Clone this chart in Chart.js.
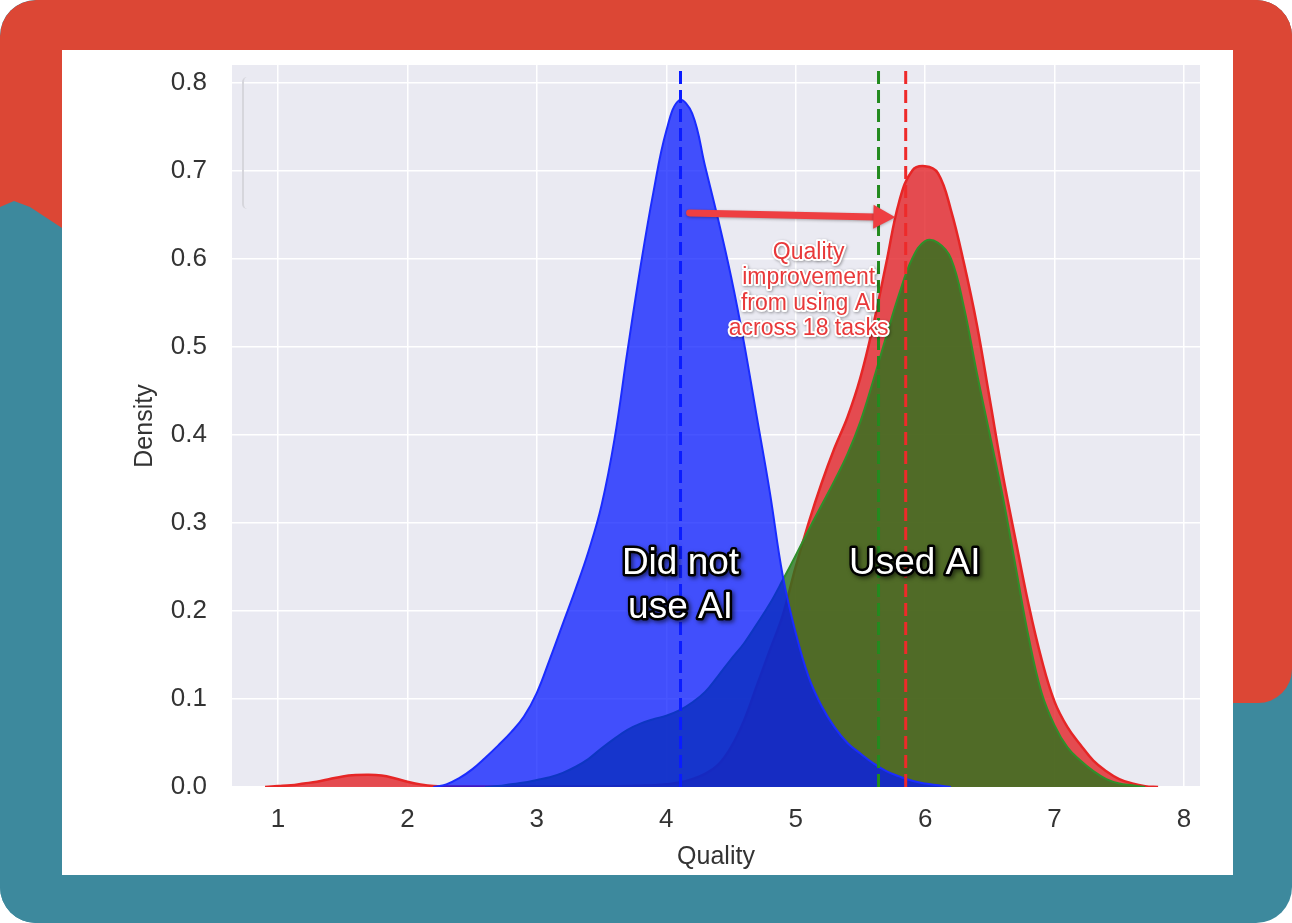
<!DOCTYPE html>
<html>
<head>
<meta charset="utf-8">
<script src="https://cdn.jsdelivr.net/npm/chart.js@4.4.1/dist/chart.umd.min.js"></script>
<style>
  body { margin: 0; background: #ffffff; }
  #frame { position: relative; width: 1292px; height: 923px; overflow: hidden; border-radius: 36px; background: #3d899d; }
  .redTop { position: absolute; left: 0; top: 0; width: 1292px; height: 240px; background: #dc4735; border-radius: 36px 36px 0 0; }
  .tealLeft { position: absolute; left: 0; top: 195px; width: 120px; height: 728px; background: #3d899d;
              clip-path: polygon(0 12px, 14px 6px, 30px 12px, 62px 33px, 62px 728px, 0 728px); }
  .redRight { position: absolute; left: 1190px; top: 0; width: 102px; height: 703px; background: #dc4735; border-radius: 0 0 34px 44px; }
  .card { position: absolute; left: 62px; top: 50px; width: 1171px; height: 825px; background: #ffffff; }
  .card canvas { display: block; }
  .bracket { position: absolute; left: 180px; top: 27px; width: 6px; height: 132px; border-left: 2px solid #d6d6dc; border-radius: 5px 0 0 5px; }
</style>
</head>
<body>
<div id="frame">
  <div class="redTop"></div>
  <div class="tealLeft"></div>
  <div class="redRight"></div>
  <div class="card">
    <canvas id="kdeChart" width="1171" height="825"></canvas>
    <div class="bracket"></div>
  </div>
</div>
<script>
// quality grid shared by the three density curves
const quality = [0.9, 1.0, 1.1, 1.2, 1.3, 1.4, 1.5, 1.6, 1.7, 1.8, 1.9, 2.0, 2.1, 2.2, 2.3, 2.4, 2.5, 2.6, 2.7, 2.8,
                 2.9, 3.0, 3.1, 3.2, 3.3, 3.4, 3.5, 3.6, 3.7, 3.8, 3.9, 4.0, 4.1, 4.2, 4.3, 4.4, 4.5, 4.6, 4.7, 4.8,
                 4.9, 5.0, 5.1, 5.2, 5.3, 5.4, 5.5, 5.6, 5.7, 5.8, 5.9, 6.0, 6.1, 6.2, 6.3, 6.4, 6.5, 6.6, 6.7, 6.8,
                 6.9, 7.0, 7.1, 7.2, 7.3, 7.4, 7.5, 7.6, 7.7, 7.8];

// did not use AI (blue)
const noAiDensity = [null, null, null, null, null, null, null, null, null, null, null, null, null, 0, 0.003, 0.01, 0.02, 0.033, 0.047, 0.062,
                     0.08, 0.107, 0.145, 0.185, 0.225, 0.268, 0.32, 0.395, 0.495, 0.59, 0.675, 0.745, 0.78, 0.765, 0.705, 0.645, 0.58, 0.505, 0.42, 0.335,
                     0.24, 0.175, 0.125, 0.092, 0.068, 0.05, 0.038, 0.027, 0.018, 0.012, 0.007, 0.004, 0.002, 0, null, null, null, null, null, null,
                     null, null, null, null, null, null, null, null, null, null];

// used AI (red)
const usedAiDensity = [0, 0.001, 0.002, 0.004, 0.006, 0.009, 0.012, 0.0135, 0.014, 0.013, 0.01, 0.006, 0.003, 0.001, 0.0005, 0.0005, 0.0005, 0.0005, 0.0005, 0.0005,
                       0.0005, 0.0005, 0.0005, 0.0005, 0.0005, 0.0005, 0.0005, 0.0008, 0.001, 0.0015, 0.002, 0.003, 0.005, 0.009, 0.015, 0.025, 0.045, 0.075, 0.115, 0.155,
                       0.195, 0.25, 0.3, 0.345, 0.385, 0.42, 0.465, 0.525, 0.595, 0.665, 0.7, 0.705, 0.697, 0.655, 0.595, 0.525, 0.44, 0.355, 0.28, 0.207,
                       0.145, 0.097, 0.068, 0.048, 0.03, 0.018, 0.009, 0.004, 0.001, 0];

// used AI, second group (green)
const usedAiGreenDensity = [null, null, null, null, null, null, null, null, null, null, null, null, null, null, null, null, null, 0, 0.001, 0.003,
                            0.005, 0.008, 0.011, 0.016, 0.023, 0.032, 0.044, 0.055, 0.065, 0.072, 0.077, 0.081, 0.087, 0.096, 0.108, 0.126, 0.145, 0.163, 0.185, 0.208,
                            0.235, 0.263, 0.292, 0.32, 0.348, 0.378, 0.415, 0.462, 0.512, 0.56, 0.6, 0.62, 0.618, 0.6, 0.545, 0.47, 0.4, 0.33, 0.25, 0.17,
                            0.107, 0.07, 0.045, 0.03, 0.018, 0.009, 0.004, 0.002, 0, null];

// mean lines
const meanNoAi = 4.11;
const meanUsedAi = 5.85;
const meanUsedAiGreen = 5.64;

const xTickValues = [1, 2, 3, 4, 5, 6, 7, 8];
const yTickValues = [0, 0.1, 0.2, 0.3, 0.4, 0.5, 0.6, 0.7, 0.8];
const xRange = [0.6445, 8.124];
const yRange = [0, 0.82];

const FONT = '"Liberation Sans", Arial, Helvetica, sans-serif';

function toPoints(values) {
    return quality.map((q, i) => ({ x: q, y: values[i] }));
}

function meanLine(x) {
    return [{ x: x, y: yRange[0] }, { x: x, y: yRange[1] }];
}

const plotBackground = {
    id: 'plotBackground',
    beforeDraw(chart) {
        const { ctx, chartArea: a } = chart;
        ctx.save();
        ctx.fillStyle = '#eaeaf2';
        ctx.fillRect(a.left, a.top, a.right - a.left, a.bottom - a.top);
        ctx.restore();
    }
};

function outlined(ctx, text, x, y, fill, stroke, width) {
    ctx.lineJoin = 'round';
    ctx.strokeStyle = stroke;
    ctx.lineWidth = width;
    ctx.strokeText(text, x, y);
    ctx.shadowColor = 'transparent';
    ctx.fillStyle = fill;
    ctx.fillText(text, x, y);
}

// arrow + labels drawn on top of the curves
const annotations = {
    id: 'annotations',
    afterDatasetsDraw(chart) {
        const { ctx, scales: { x, y } } = chart;
        ctx.save();

        // arrow
        const x0 = x.getPixelForValue(4.18), y0 = y.getPixelForValue(0.652);
        const x1 = x.getPixelForValue(5.77), y1 = y.getPixelForValue(0.647);
        const ang = Math.atan2(y1 - y0, x1 - x0);
        ctx.shadowColor = 'rgba(0,0,0,0.3)';
        ctx.shadowBlur = 3;
        ctx.shadowOffsetY = 1;
        ctx.strokeStyle = '#ee3f42';
        ctx.lineWidth = 7;
        ctx.lineCap = 'round';
        ctx.beginPath();
        ctx.moveTo(x0, y0);
        ctx.lineTo(x1 - 20 * Math.cos(ang), y1 - 20 * Math.sin(ang));
        ctx.stroke();
        ctx.fillStyle = '#ee3f42';
        ctx.beginPath();
        ctx.moveTo(x1, y1);
        ctx.lineTo(x1 - 22 * Math.cos(ang) + 12 * Math.sin(ang), y1 - 22 * Math.sin(ang) - 12 * Math.cos(ang));
        ctx.lineTo(x1 - 22 * Math.cos(ang) - 12 * Math.sin(ang), y1 - 22 * Math.sin(ang) + 12 * Math.cos(ang));
        ctx.closePath();
        ctx.fill();

        ctx.textAlign = 'center';
        ctx.textBaseline = 'middle';

        // red note
        ctx.font = '23px ' + FONT;
        const noteX = x.getPixelForValue(5.1);
        const noteY = y.getPixelForValue(0.607);
        ['Quality', 'improvement', 'from using AI', 'across 18 tasks'].forEach((line, i) => {
            ctx.shadowColor = 'rgba(0,0,0,0.35)';
            ctx.shadowBlur = 3;
            ctx.shadowOffsetX = 1;
            ctx.shadowOffsetY = 1;
            outlined(ctx, line, noteX, noteY + i * 25.5, '#e8393a', '#ffffff', 4);
        });

        // group labels
        ctx.font = '37px ' + FONT;
        const labels = [
            { text: 'Did not', q: meanNoAi, d: 0.254 },
            { text: 'use AI', q: meanNoAi, d: 0.204 },
            { text: 'Used AI', q: 5.92, d: 0.254 }
        ];
        labels.forEach(l => {
            ctx.shadowColor = 'rgba(0,0,0,0.55)';
            ctx.shadowBlur = 4;
            ctx.shadowOffsetX = 2;
            ctx.shadowOffsetY = 2;
            outlined(ctx, l.text, x.getPixelForValue(l.q), y.getPixelForValue(l.d), '#ffffff', '#000000', 5);
        });
        ctx.restore();
    }
};

const ctx = document.getElementById('kdeChart').getContext('2d');
new Chart(ctx, {
    type: 'line',
    data: {
        datasets: [
            {
                label: 'Did not use AI',
                data: toPoints(noAiDensity),
                borderColor: '#1a2cff',
                backgroundColor: 'rgba(0, 20, 255, 0.72)',
                borderWidth: 2,
                fill: 'origin',
                order: 2
            },
            {
                label: 'Used AI (green)',
                data: toPoints(usedAiGreenDensity),
                borderColor: '#2f8f2a',
                backgroundColor: 'rgba(42, 115, 29, 0.8)',
                borderWidth: 2,
                fill: 'origin',
                order: 3
            },
            {
                label: 'Used AI',
                data: toPoints(usedAiDensity),
                borderColor: '#e62626',
                backgroundColor: 'rgba(225, 30, 35, 0.78)',
                borderWidth: 2.5,
                fill: 'origin',
                order: 4
            },
            {
                label: 'Mean did not use AI',
                data: meanLine(meanNoAi),
                borderColor: '#0a1cff',
                borderWidth: 3,
                borderDash: [13, 6],
                fill: false,
                tension: 0,
                order: 0
            },
            {
                label: 'Mean used AI (green)',
                data: meanLine(meanUsedAiGreen),
                borderColor: '#238a1f',
                borderWidth: 3,
                borderDash: [13, 6],
                fill: false,
                tension: 0,
                order: 1
            },
            {
                label: 'Mean used AI',
                data: meanLine(meanUsedAi),
                borderColor: '#ee2a2a',
                borderWidth: 3,
                borderDash: [13, 6],
                fill: false,
                tension: 0,
                order: 0
            }
        ]
    },
    options: {
        responsive: false,
        animation: false,
        spanGaps: false,
        elements: {
            point: { radius: 0 },
            line: { tension: 0.4, capBezierPoints: true }
        },
        layout: { padding: { left: 68, right: 33, top: 15, bottom: 3 } },
        scales: {
            x: {
                type: 'linear',
                min: xRange[0],
                max: xRange[1],
                afterBuildTicks: s => { s.ticks = xTickValues.map(v => ({ value: v })); },
                afterFit: s => { s.height = 85; s.paddingLeft = 0; s.paddingRight = 0; },
                border: { display: false },
                grid: { color: '#ffffff', lineWidth: 1.5, drawTicks: false },
                ticks: { color: '#333333', padding: 17, font: { family: FONT, size: 26 } },
                title: { display: true, text: 'Quality', color: '#333333', padding: 0, font: { family: FONT, size: 25 } }
            },
            y: {
                min: yRange[0],
                max: yRange[1],
                afterBuildTicks: s => { s.ticks = yTickValues.map(v => ({ value: v })); },
                afterFit: s => { s.width = 102; s.paddingTop = 0; s.paddingBottom = 0; },
                border: { display: false },
                grid: { color: '#ffffff', lineWidth: 1.5, drawTicks: false },
                ticks: { color: '#333333', padding: 25, font: { family: FONT, size: 26 }, callback: v => v.toFixed(1) },
                title: { display: true, text: 'Density', color: '#333333', padding: 0, font: { family: FONT, size: 25 } }
            }
        },
        plugins: {
            legend: { display: false },
            tooltip: { enabled: false }
        }
    },
    plugins: [plotBackground, annotations]
});
</script>
</body>
</html>
